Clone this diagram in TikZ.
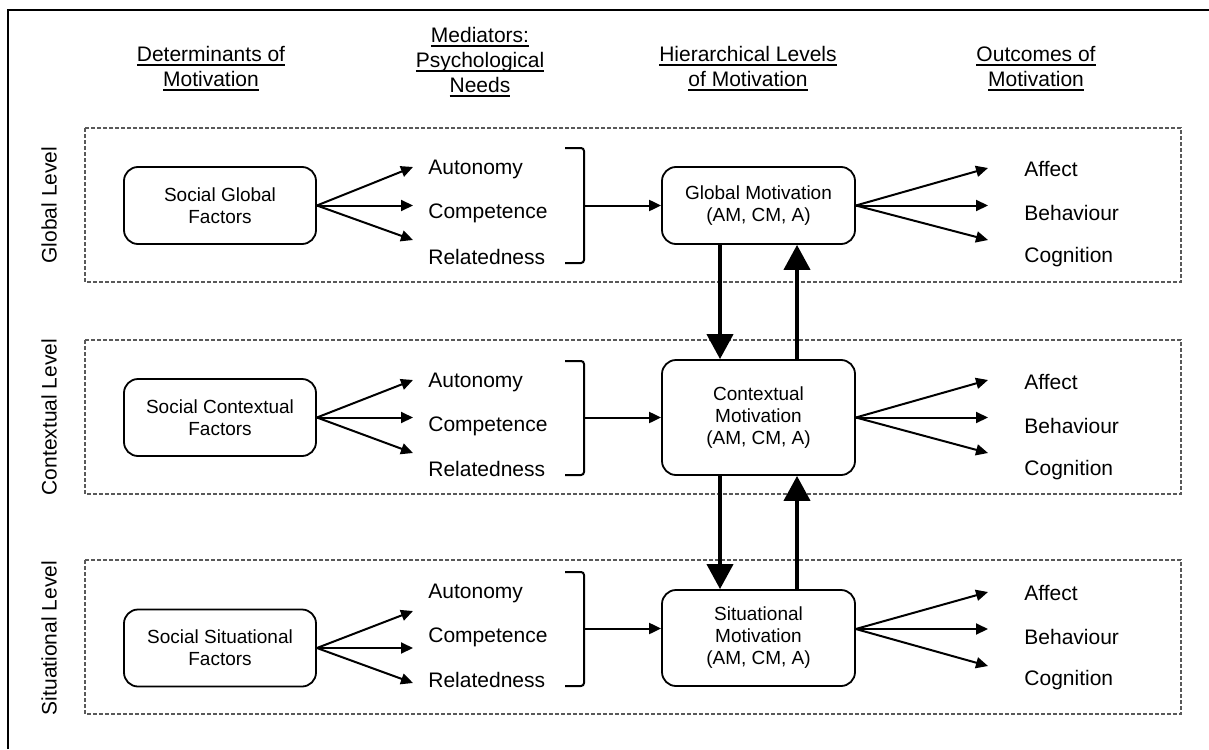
\documentclass[tikz,border=0pt]{standalone}
\usepackage{fontspec}
\setmainfont{Liberation Sans}
\usetikzlibrary{arrows.meta}
% underlined header line with a fixed rule below the baseline
\newcommand\hdline[1]{\setbox0\hbox{#1}\rlap{\rule[-2.2pt]{\wd0}{1pt}}\box0}
\begin{document}
\begin{tikzpicture}[x=0.5pt,y=-0.5pt,
  head/.style={align=center,inner sep=0pt,font=\fontsize{10.5}{12.5}\selectfont},
  lvl/.style={rotate=90,inner sep=0pt,font=\fontsize{10.5}{12.5}\selectfont},
  factor/.style={draw,rounded corners=7pt,line width=0.9pt,align=center,
    inner sep=0pt,minimum width=96pt,minimum height=38.5pt,
    font=\fontsize{9.5}{11}\selectfont},
  motive/.style={factor,minimum width=96.5pt},
  item/.style={anchor=west,inner sep=0pt,font=\fontsize{10.5}{12.5}\selectfont},
  fan/.style={line width=1pt,-{Triangle[length=6pt,width=5.5pt]}},
  vert/.style={line width=2pt,-{Triangle[length=12.5pt,width=13pt]}},
  levelbox/.style={draw=black!65,line width=0.8pt,dash pattern=on 2pt off 1pt},
  bracket/.style={line width=1pt,rounded corners=1.5pt}]
\useasboundingbox (0,0) rectangle (1209,749);

% page frame
\draw[line width=1pt] (8,749) -- (8,10) -- (1209,10);

% column headers
\node[head] (hdet) at (211,68.5) {\hdline{Determinants of}\\\hdline{Motivation}};
\node[head] (hmed) at (480,62) {\hdline{Mediators:}\\\hdline{Psychological}\\\hdline{Needs}};
\node[head] (hlev) at (748,68.5) {\hdline{Hierarchical Levels}\\\hdline{of Motivation}};
\node[head] (hout) at (1036,68.5) {\hdline{Outcomes of}\\\hdline{Motivation}};

% level frames
\draw[levelbox] (85,128) rectangle (1181,282);
\draw[levelbox] (85,340) rectangle (1181,494);
\draw[levelbox] (85,560) rectangle (1181,714);

\node[lvl] (lglob) at (49,205) {Global Level};
\node[lvl] (lcont) at (49,417) {Contextual Level};
\node[lvl] (lsitu) at (49,638) {Situational Level};

% hierarchical motivation boxes
\node[motive] (gm) at (758.5,205.5) {Global Motivation\\(AM, CM, A)};
\node[motive,minimum height=57.5pt] (cm) at (758.5,417.5) {Contextual\\Motivation\\(AM, CM, A)};
\node[motive,minimum height=48pt] (sm) at (758.5,638) {Situational\\Motivation\\(AM, CM, A)};

% ---------- global level ----------
\node[factor] (sgf) at (220,205.5) {Social Global\\Factors};
\coordinate (ga1) at (413,167);
\coordinate (ga2) at (413,205.5);
\coordinate (ga3) at (413,240);
\draw[fan] (sgf.east) -- (ga1);
\draw[fan] (sgf.east) -- (ga2);
\draw[fan] (sgf.east) -- (ga3);
\node[item] (gaut) at (428,169) {Autonomy};
\node[item] (gcom) at (428,213) {Competence};
\node[item] (grel) at (428,257) {Relatedness};
\draw[bracket] (565,148) -- (584,148) -- (584,263) -- (565,263);
\coordinate (gbr) at (584,205.5);
\draw[fan] (gbr) -- (gm.west |- gbr);
\coordinate (go1) at (988,168);
\coordinate (go2) at (988,205.5);
\coordinate (go3) at (988,240);
\draw[fan] (gm.east) -- (go1);
\draw[fan] (gm.east) -- (go2);
\draw[fan] (gm.east) -- (go3);
\node[item] (gaff) at (1024,169) {Affect};
\node[item] (gbeh) at (1024,213) {Behaviour};
\node[item] (gcog) at (1024,257) {Cognition};

% ---------- contextual level ----------
\node[factor] (scf) at (220,417.5) {Social Contextual\\Factors};
\coordinate (ca1) at (413,380);
\coordinate (ca2) at (413,417.5);
\coordinate (ca3) at (413,453);
\draw[fan] (scf.east) -- (ca1);
\draw[fan] (scf.east) -- (ca2);
\draw[fan] (scf.east) -- (ca3);
\node[item] (caut) at (428,382) {Autonomy};
\node[item] (ccom) at (428,426) {Competence};
\node[item] (crel) at (428,469) {Relatedness};
\draw[bracket] (565,361) -- (584,361) -- (584,475) -- (565,475);
\coordinate (cbr) at (584,417.5);
\draw[fan] (cbr) -- (cm.west |- cbr);
\coordinate (co1) at (988,380);
\coordinate (co2) at (988,417.5);
\coordinate (co3) at (988,453);
\draw[fan] (cm.east) -- (co1);
\draw[fan] (cm.east) -- (co2);
\draw[fan] (cm.east) -- (co3);
\node[item] (caff) at (1024,382) {Affect};
\node[item] (cbeh) at (1024,426) {Behaviour};
\node[item] (ccog) at (1024,470) {Cognition};

% ---------- situational level ----------
\node[factor] (ssf) at (220,648) {Social Situational\\Factors};
\coordinate (sa1) at (413,611);
\coordinate (sa2) at (413,648);
\coordinate (sa3) at (413,683);
\draw[fan] (ssf.east) -- (sa1);
\draw[fan] (ssf.east) -- (sa2);
\draw[fan] (ssf.east) -- (sa3);
\node[item] (saut) at (428,593) {Autonomy};
\node[item] (scom) at (428,637) {Competence};
\node[item] (srel) at (428,680) {Relatedness};
\draw[bracket] (565,572) -- (584,572) -- (584,686) -- (565,686);
\coordinate (sbr) at (584,628.5);
\draw[fan] (sbr) -- (sm.west |- sbr);
\coordinate (ssrc) at (855.75,629);
\coordinate (so1) at (988,592);
\coordinate (so2) at (988,629);
\coordinate (so3) at (988,666);
\draw[fan] (ssrc) -- (so1);
\draw[fan] (ssrc) -- (so2);
\draw[fan] (ssrc) -- (so3);
\node[item] (saff) at (1024,593) {Affect};
\node[item] (sbeh) at (1024,637) {Behaviour};
\node[item] (scog) at (1024,680) {Cognition};

% top-down and bottom-up effects between levels
\coordinate (dncol) at (720,0);
\coordinate (upcol) at (797,0);
\draw[vert] (gm.south -| dncol) -- (cm.north -| dncol);
\draw[vert] (cm.north -| upcol) -- (gm.south -| upcol);
\draw[vert] (cm.south -| dncol) -- (sm.north -| dncol);
\draw[vert] (sm.north -| upcol) -- (cm.south -| upcol);
\end{tikzpicture}
\end{document}
